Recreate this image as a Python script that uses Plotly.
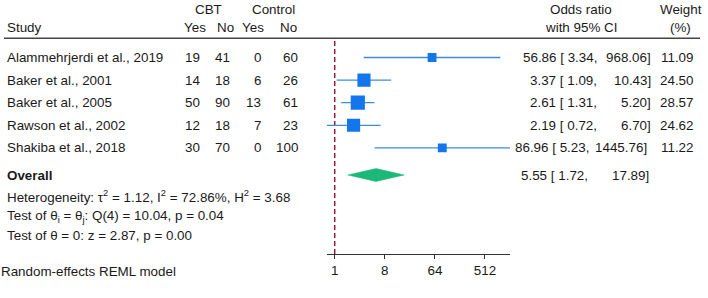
import math
import plotly.graph_objects as go

# ---- data ----
studies = ["Alammehrjerdi et al., 2019", "Baker et al., 2001", "Baker et al., 2005",
           "Rawson et al., 2002", "Shakiba et al., 2018"]
cbt_yes = [19, 14, 50, 12, 30]
cbt_no = [41, 18, 90, 18, 70]
ctl_yes = [0, 6, 13, 7, 0]
ctl_no = [60, 26, 61, 23, 100]
odds = [56.86, 3.37, 2.61, 2.19, 86.96]
ci_lo = [3.34, 1.09, 1.31, 0.72, 5.23]
ci_hi = [968.06, 10.43, 5.20, 6.70, 1445.76]
weights = [11.09, 24.50, 28.57, 24.62, 11.22]
overall_or = 5.55
overall_lo = 1.72
overall_hi = 17.89
tick_vals = [1, 8, 64, 512]
tick_text = ["1", "8", "64", "512"]
het_text = "Heterogeneity: τ<sup>2</sup> = 1.12, I<sup>2</sup> = 72.86%, H<sup>2</sup> = 3.68"
q_text = "Test of θ<sub>i</sub> = θ<sub>j</sub>: Q(4) = 10.04, p = 0.04"
z_text = "Test of θ = 0: z = 2.87, p = 0.00"
model_text = "Random-effects REML model"

# ---- layout constants (pixels) ----
W, H = 708, 298
FONT = "Liberation Sans, Arial, sans-serif"
FS = 13.4
TXT = "#1a1a1a"
AXIS_Y = 254
row_y0, row_dy = 57.5, 22.6
row_y = [row_y0 + i * row_dy for i in range(len(studies))]
overall_y = 175
# right edges of the two CI text parts (Stata shifts the widest row)
ci_edges = {4: (589, 647)}
ci_edges_default = (597, 651)

px_per_log2 = 16.7
px_one = 334.7
lo_all = min(ci_lo)
hi_all = max(ci_hi)
dom_l = px_one + px_per_log2 * math.log2(lo_all)
dom_r = px_one + px_per_log2 * math.log2(hi_all)

fig = go.Figure()

# reference line at OR = 1
fig.add_trace(go.Scatter(x=[1, 1], y=[41, AXIS_Y], mode="lines",
                         line=dict(color="#8b1a3e", width=1.5, dash="5px,3px"),
                         hoverinfo="skip", showlegend=False))

# CI lines
for i in range(len(studies)):
    fig.add_trace(go.Scatter(x=[ci_lo[i], ci_hi[i]], y=[row_y[i], row_y[i]], mode="lines",
                             line=dict(color="#3b8ddb", width=1.3),
                             hoverinfo="skip", showlegend=False))

# squares
fig.add_trace(go.Scatter(x=odds, y=row_y, mode="markers",
                         marker=dict(symbol="square", color="#1476ec", opacity=1,
                                     size=[2.65 * math.sqrt(w) for w in weights],
                                     line=dict(width=0)),
                         hoverinfo="skip", showlegend=False))

# overall diamond
dh = 6.5
fig.add_trace(go.Scatter(x=[overall_lo, overall_or, overall_hi, overall_or, overall_lo],
                         y=[overall_y, overall_y - dh, overall_y, overall_y + dh, overall_y],
                         mode="lines", fill="toself", fillcolor="#1bb877",
                         line=dict(color="#1bb877", width=0.5),
                         hoverinfo="skip", showlegend=False))

ann = []


def text(s, xpx, ypx, anchor="left", bold=False, yref="y"):
    if anchor == "left":
        x = (xpx - 2) / W
    elif anchor == "right":
        x = (xpx + 2) / W
    else:
        x = xpx / W
    if bold:
        s = "<b>" + s + "</b>"
    if yref == "paper":
        y = (H - ypx) / H
    else:
        y = ypx
    ann.append(dict(text=s, x=x, xref="paper", y=y, yref=yref, xanchor=anchor,
                    yanchor="middle", showarrow=False,
                    font=dict(family=FONT, size=FS, color=TXT)))


# headers
text("CBT", 208, 9, "center")
text("Control", 273, 9, "center")
text("Study", 7, 27.5)
text("Yes", 195, 27.5, "center")
text("No", 225, 27.5, "center")
text("Yes", 253, 27.5, "center")
text("No", 288.5, 27.5, "center")
text("Odds ratio", 581, 9, "center")
text("with 95% CI", 581, 27.5, "center")
text("Weight", 681, 9, "center")
text("(%)", 680, 27.5, "center")

for i, s in enumerate(studies):
    y = row_y[i]
    e1, e2 = ci_edges.get(i, ci_edges_default)
    text(s, 7, y)
    text(str(cbt_yes[i]), 200, y, "right")
    text(str(cbt_no[i]), 230, y, "right")
    text(str(ctl_yes[i]), 261, y, "right")
    text(str(ctl_no[i]), 298, y, "right")
    text(f"{odds[i]:.2f} [ {ci_lo[i]:.2f},", e1, y, "right")
    text(f"{ci_hi[i]:.2f}]", e2, y, "right")
    text(f"{weights[i]:.2f}", 694, y, "right")

text("Overall", 7, overall_y, bold=True)
text(f"{overall_or:.2f} [ {overall_lo:.2f},", 587.5, overall_y, "right")
text(f"{overall_hi:.2f}]", 648.5, overall_y, "right")
text(het_text, 7, 196)
text(q_text, 7, 216)
text(z_text, 7, 235.5)
text(model_text, 1, 271, yref="paper")

fig.update_layout(
    width=W, height=H,
    margin=dict(l=0, r=0, t=0, b=0),
    paper_bgcolor="white", plot_bgcolor="white",
    template="none",
    annotations=ann,
    shapes=[dict(type="line", xref="paper", yref="y", x0=4 / W, x1=700 / W,
                 y0=38.3, y1=38.3, line=dict(color="#444444", width=1.5))],
    xaxis=dict(type="log", domain=[dom_l / W, dom_r / W],
               range=[math.log10(lo_all), math.log10(hi_all)],
               tickvals=tick_vals, ticktext=tick_text,
               ticks="outside", ticklen=4, tickcolor="#333333", tickwidth=1,
               showline=True, linecolor="#333333", linewidth=1,
               showgrid=False, zeroline=False, automargin=False,
               tickfont=dict(family=FONT, size=FS, color=TXT)),
    yaxis=dict(domain=[(H - AXIS_Y) / H, 1], range=[AXIS_Y, 0],
               visible=False, showgrid=False, zeroline=False, automargin=False),
    showlegend=False,
)

fig.write_html("out.html")
